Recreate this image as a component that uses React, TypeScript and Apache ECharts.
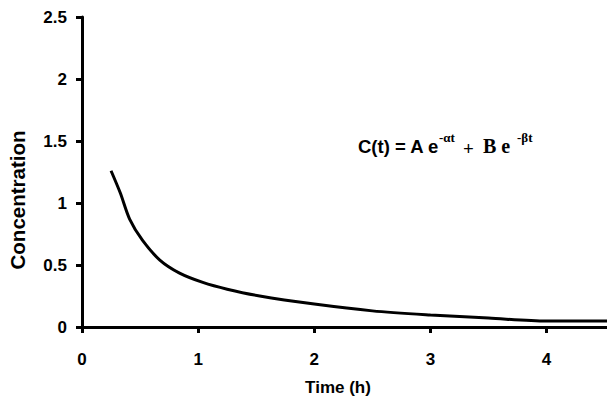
import React, { useEffect, useRef } from "react";
import * as echarts from "echarts";

const timeHours = [0.25, 0.33, 0.41, 0.52, 0.67, 0.84, 1.04, 1.25, 1.53, 2.0, 2.5, 3.0, 3.5, 4.0, 4.52];
const concentration = [1.26, 1.08, 0.87, 0.7, 0.54, 0.435, 0.36, 0.305, 0.25, 0.185, 0.13, 0.097, 0.072, 0.048, 0.048];
const xTickValues = [0, 1, 2, 3, 4];
const yTickValues = [0, 0.5, 1, 1.5, 2, 2.5];

const SANS = 'Arial, "Liberation Sans", sans-serif';
const SERIF = '"Times New Roman", "Liberation Serif", serif';

export default function App() {
  const ref = useRef<HTMLDivElement>(null);
  useEffect(() => {
    if (!ref.current) return;
    const chart = echarts.init(ref.current, null, { renderer: "svg" });
    const axisLine = { show: true, lineStyle: { color: "#000", width: 3 } };
    chart.setOption({
      animation: false,
      backgroundColor: "#fff",
      grid: { left: 82, right: 0, top: 17, bottom: 81, containLabel: false },
      xAxis: {
        type: "value",
        min: 0,
        max: 4.52,
        interval: 1,
        axisLine,
        axisTick: { show: true, length: 6, lineStyle: { color: "#000", width: 3 }, customValues: xTickValues },
        axisLabel: {
          color: "#000",
          fontFamily: SANS,
          fontWeight: "bold",
          fontSize: 17,
          margin: 24,
          customValues: xTickValues,
        },
        splitLine: { show: false },
      },
      yAxis: {
        type: "value",
        min: 0,
        max: 2.5,
        interval: 0.5,
        axisLine,
        axisTick: { show: true, length: 6, lineStyle: { color: "#000", width: 3 }, customValues: yTickValues },
        axisLabel: {
          color: "#000",
          fontFamily: SANS,
          fontWeight: "bold",
          fontSize: 17,
          margin: 15,
          customValues: yTickValues,
        },
        splitLine: { show: false },
      },
      series: [
        {
          type: "line",
          data: timeHours.map((t, i) => [t, concentration[i]]),
          smooth: 0.3,
          showSymbol: false,
          symbol: "none",
          lineStyle: { color: "#000", width: 3 },
          clip: true,
        },
      ],
      graphic: [
        {
          type: "text",
          x: 17,
          y: 200,
          rotation: Math.PI / 2,
          style: {
            text: "Concentration",
            font: `bold 20.5px ${SANS}`,
            fill: "#000",
            textAlign: "center",
            textVerticalAlign: "middle",
          },
        },
        {
          type: "text",
          x: 338,
          y: 387,
          style: {
            text: "Time (h)",
            font: `bold 17px ${SANS}`,
            fill: "#000",
            textAlign: "center",
            textVerticalAlign: "middle",
          },
        },
        {
          type: "text",
          x: 358,
          y: 146,
          style: { text: "C(t) = A e", font: `bold 18.5px ${SANS}`, fill: "#000", textAlign: "left", textVerticalAlign: "middle" },
        },
        {
          type: "text",
          x: 439,
          y: 137,
          style: { text: "-αt", font: `bold 13px ${SERIF}`, fill: "#000", textAlign: "left", textVerticalAlign: "middle" },
        },
        {
          type: "text",
          x: 463,
          y: 148,
          style: { text: "+", font: `bold 19px ${SERIF}`, fill: "#000", textAlign: "left", textVerticalAlign: "middle" },
        },
        {
          type: "text",
          x: 483,
          y: 146,
          style: { text: "B e", font: `bold 20px ${SERIF}`, fill: "#000", textAlign: "left", textVerticalAlign: "middle" },
        },
        {
          type: "text",
          x: 517,
          y: 137,
          style: { text: "-βt", font: `bold 13px ${SERIF}`, fill: "#000", textAlign: "left", textVerticalAlign: "middle" },
        },
      ],
    });
    return () => chart.dispose();
  }, []);
  return <div ref={ref} style={{ position: "fixed", left: 0, top: 0, width: 607, height: 408 }} />;
}
